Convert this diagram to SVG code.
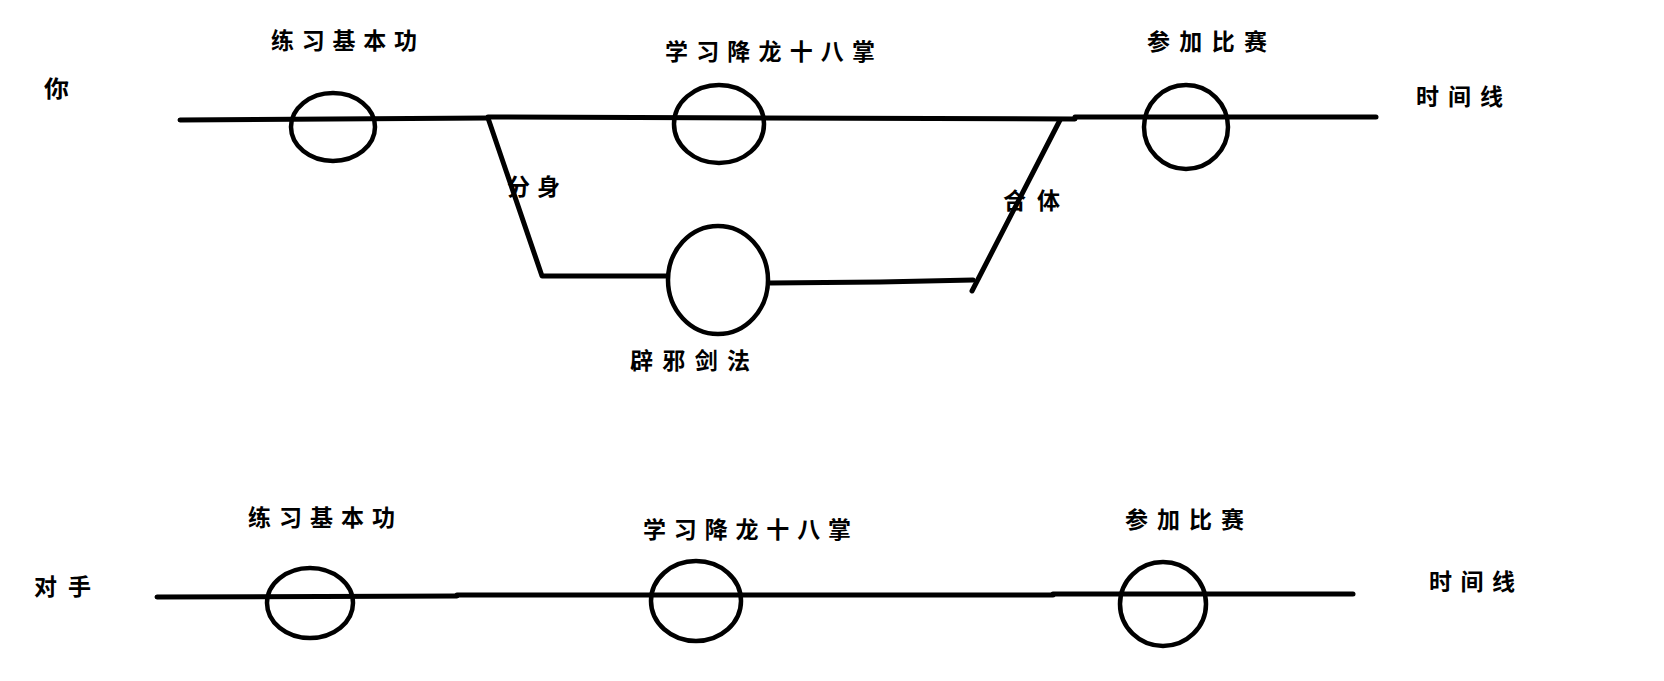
<svg xmlns="http://www.w3.org/2000/svg" width="1664" height="681" viewBox="0 0 1664 681">
<style>
.ln{fill:none;stroke:#000;stroke-width:5;stroke-linecap:round;stroke-linejoin:round}
.nd{fill:none;stroke:#000;stroke-width:4.5}
.t{font-family:"Noto Sans CJK SC","Noto Sans CJK TC",sans-serif;font-size:23px;fill:#000;font-weight:600}
</style>
<rect width="1664" height="681" fill="#fff"/>
<g id="connectors">
<path class="ln" d="M180 120 L488 118"/>
<path class="ln" d="M488 117 L1075 119"/>
<path class="ln" d="M1075 117 L1376 117"/>
<path class="ln" d="M488 118 L542 276 L667 276"/>
<path class="ln" d="M770 283 L880 282 L973 280"/>
<path class="ln" d="M1060 120 L972 291"/>
<path class="ln" d="M157 597 L457 596"/>
<path class="ln" d="M457 595 L1053 595"/>
<path class="ln" d="M1053 594 L1353 594"/>
</g>
<g id="label-you"><text class="t" x="44" y="97" textLength="25" lengthAdjust="spacingAndGlyphs">你</text></g>
<g id="label-you-timeline"><text class="t" x="1416" y="105" textLength="87" lengthAdjust="spacing">时间线</text></g>
<g id="you-basic"><ellipse class="nd" cx="333" cy="127" rx="42" ry="34"/><text class="t" x="271" y="49" textLength="146" lengthAdjust="spacing">练习基本功</text></g>
<g id="you-xianglong"><ellipse class="nd" cx="719" cy="124" rx="45" ry="39"/><text class="t" x="665" y="60" textLength="210" lengthAdjust="spacing">学习降龙十八掌</text></g>
<g id="you-match"><ellipse class="nd" cx="1186" cy="127" rx="42" ry="42"/><text class="t" x="1147" y="50" textLength="120" lengthAdjust="spacing">参加比赛</text></g>
<g id="you-bixie"><ellipse class="nd" cx="718" cy="280" rx="50" ry="54"/><text class="t" x="630" y="369" textLength="120" lengthAdjust="spacing">辟邪剑法</text></g>
<g id="label-split"><text class="t" x="507" y="195" textLength="53" lengthAdjust="spacing">分身</text></g>
<g id="label-merge"><text class="t" x="1003" y="209" textLength="57" lengthAdjust="spacing">合体</text></g>
<g id="label-rival"><text class="t" x="34" y="595" textLength="57" lengthAdjust="spacing">对手</text></g>
<g id="label-rival-timeline"><text class="t" x="1429" y="590" textLength="86" lengthAdjust="spacing">时间线</text></g>
<g id="rival-basic"><ellipse class="nd" cx="310" cy="603" rx="43" ry="35"/><text class="t" x="248" y="526" textLength="147" lengthAdjust="spacing">练习基本功</text></g>
<g id="rival-xianglong"><ellipse class="nd" cx="696" cy="601" rx="45" ry="40"/><text class="t" x="643" y="538" textLength="208" lengthAdjust="spacing">学习降龙十八掌</text></g>
<g id="rival-match"><ellipse class="nd" cx="1163" cy="604" rx="43" ry="42"/><text class="t" x="1125" y="528" textLength="119" lengthAdjust="spacing">参加比赛</text></g>
</svg>
